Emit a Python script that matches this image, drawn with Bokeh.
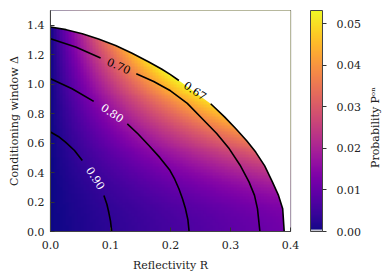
import numpy as np
from bokeh.plotting import figure
from bokeh.models import (Range1d, LinearColorMapper, ColorBar, FixedTicker,
                          PrintfTickFormatter, Label)
from bokeh.palettes import Plasma256
from bokeh.core.properties import value
from bokeh.embed import file_html
from bokeh.resources import INLINE

FONT = "DejaVu Serif"

# ---- axes / ticks ----
R_TICKS = [0.0, 0.1, 0.2, 0.3, 0.4]
D_TICKS = [0.0, 0.2, 0.4, 0.6, 0.8, 1.0, 1.2, 1.4]
CB_TICKS = [0.00, 0.01, 0.02, 0.03, 0.04, 0.05]
R_RANGE = [0.0, 0.4]
D_RANGE = [0.0, 1.5]
P_MAX = 0.0532

# ---- probability surface, coefficients: P = R*(c0 + c2*D^2)
P_COEF = [0.030, 0.205]
GRID_N_R = 80
GRID_N_D = 75

# ---- contour lines (R, Delta), split where labels sit ----
C067_R1 = [0.000, 0.026, 0.053, 0.080, 0.1085, 0.136, 0.164, 0.185, 0.200, 0.214]
C067_D1 = [1.388, 1.370, 1.342, 1.307, 1.263, 1.210, 1.150, 1.103, 1.065, 1.025]
C067_R2 = [0.267, 0.290, 0.309, 0.327, 0.342, 0.357, 0.370, 0.380, 0.387, 0.3895]
C067_D2 = [0.867, 0.778, 0.697, 0.616, 0.539, 0.445, 0.335, 0.245, 0.154, 0.000]

C070_R1 = [0.000, 0.042, 0.0835]
C070_D1 = [1.308, 1.252, 1.177]
C070_R2 = [0.143, 0.172, 0.200, 0.228, 0.253, 0.277, 0.298, 0.316, 0.331, 0.340, 0.345, 0.349]
C070_D2 = [1.071, 1.018, 0.955, 0.870, 0.765, 0.665, 0.561, 0.450, 0.335, 0.245, 0.154, 0.000]

C080_R1 = [0.000, 0.036, 0.072]
C080_D1 = [1.037, 0.969, 0.883]
C080_R2 = [0.128, 0.146, 0.164, 0.182, 0.199, 0.207, 0.214, 0.220, 0.225, 0.229, 0.231]
C080_D2 = [0.731, 0.662, 0.584, 0.503, 0.415, 0.355, 0.290, 0.222, 0.154, 0.080, 0.000]

C090_R1 = [0.000, 0.013, 0.025, 0.040, 0.053]
C090_D1 = [0.675, 0.645, 0.607, 0.550, 0.482]
C090_R2 = [0.089, 0.094, 0.097, 0.100, 0.102]
C090_D2 = [0.244, 0.185, 0.132, 0.070, 0.000]

LABEL_TEXT = ["0.67", "0.70", "0.80", "0.90"]
LABEL_R = [0.241, 0.114, 0.103, 0.075]
LABEL_D = [0.955, 1.123, 0.804, 0.362]
LABEL_ANGLE_DEG = [-34, -24, -34, -58]
LABEL_COLOR = ["black", "black", "white", "white"]

# ---- figure ----
p = figure(frame_width=240, frame_height=221, min_border_left=50, min_border_top=10,
           min_border_bottom=39, min_border_right=96,
           x_range=Range1d(*R_RANGE), y_range=Range1d(*D_RANGE),
           output_backend="svg", toolbar_location=None)
p.background_fill_color = "white"
p.border_fill_color = "white"
p.outline_line_color = "#444444"
p.outline_line_width = 1.2
p.grid.visible = False

# heat map
rc = (np.arange(GRID_N_R) + 0.5) * (R_RANGE[1] - R_RANGE[0]) / GRID_N_R
dc = (np.arange(GRID_N_D) + 0.5) * (D_RANGE[1] - D_RANGE[0]) / GRID_N_D
RR, DD = np.meshgrid(rc, dc)
P = RR * (P_COEF[0] + P_COEF[1] * DD ** 2)
mapper = LinearColorMapper(palette=Plasma256, low=0.0, high=P_MAX)
p.image(image=[P], x=R_RANGE[0], y=D_RANGE[0], dw=R_RANGE[1] - R_RANGE[0],
        dh=D_RANGE[1] - D_RANGE[0], color_mapper=mapper)

# white region beyond the 0.67 boundary
mask_x = C067_R1 + C067_R2 + [0.45, 0.45, -0.01, -0.01]
mask_y = C067_D1 + C067_D2 + [-0.05, 1.6, 1.6, C067_D1[0]]
p.patch(mask_x, mask_y, fill_color="white", line_color=None)

for xs, ys in [(C067_R1, C067_D1), (C067_R2, C067_D2), (C070_R1, C070_D1),
               (C070_R2, C070_D2), (C080_R1, C080_D1), (C080_R2, C080_D2),
               (C090_R1, C090_D1), (C090_R2, C090_D2)]:
    p.line(xs, ys, line_color="black", line_width=1.6, line_join="round")

p.text(x=LABEL_R, y=LABEL_D, text=LABEL_TEXT,
       angle=[np.deg2rad(a) for a in LABEL_ANGLE_DEG],
       text_color=LABEL_COLOR, text_font=value(FONT), text_font_size="11px",
       text_align="center", text_baseline="middle")

# axes
for ax in (p.xaxis, p.yaxis):
    ax.axis_line_color = "#444444"
    ax.major_tick_in = 4
    ax.major_tick_out = 0
    ax.minor_tick_line_color = None
    ax.major_tick_line_color = "#333333"
    ax.major_label_text_font = FONT
    ax.major_label_text_font_size = "11px"
    ax.major_label_text_color = "#222222"
    ax.axis_label_text_font = FONT
    ax.axis_label_text_font_size = "11px"
    ax.axis_label_text_font_style = "normal"
    ax.axis_label_text_color = "#222222"
    ax.formatter = PrintfTickFormatter(format="%.1f")
p.xaxis.ticker = FixedTicker(ticks=R_TICKS)
p.yaxis.ticker = FixedTicker(ticks=D_TICKS)
p.xaxis.axis_label = "Reflectivity R"
p.yaxis.axis_label = "Conditioning window Δ"
p.xaxis.major_label_standoff = 9
p.yaxis.major_label_standoff = 6
p.xaxis.axis_label_standoff = 7
p.yaxis.axis_label_standoff = 3

# colour bar
cb_mapper = LinearColorMapper(palette=["#c6c6d4"] * 2 + list(Plasma256[2:]),
                              low=0.0, high=P_MAX)
cb = ColorBar(color_mapper=cb_mapper, ticker=FixedTicker(ticks=CB_TICKS),
              formatter=PrintfTickFormatter(format="%.2f"), width=12, height=221,
              location=(20, 0), padding=0, margin=0,
              major_tick_in=0, major_tick_out=4,
              major_tick_line_color="#333333", bar_line_color="#444444",
              bar_line_width=1.0, label_standoff=10,
              major_label_text_font=FONT, major_label_text_font_size="11px",
              major_label_text_color="#222222", background_fill_alpha=0,
              border_line_color=None)
p.add_layout(cb, "right")

# colour-bar caption, reading bottom-to-top, placed in a side panel
p.add_layout(Label(x=12, y=104, x_units="screen", y_units="screen",
                   text="Probability Pᵒⁿ", angle=np.pi / 2,
                   text_font=FONT, text_font_size="11px", text_color="#222222",
                   text_align="center", text_baseline="middle"), "right")

open("out.html", "w").write(file_html(p, INLINE))
